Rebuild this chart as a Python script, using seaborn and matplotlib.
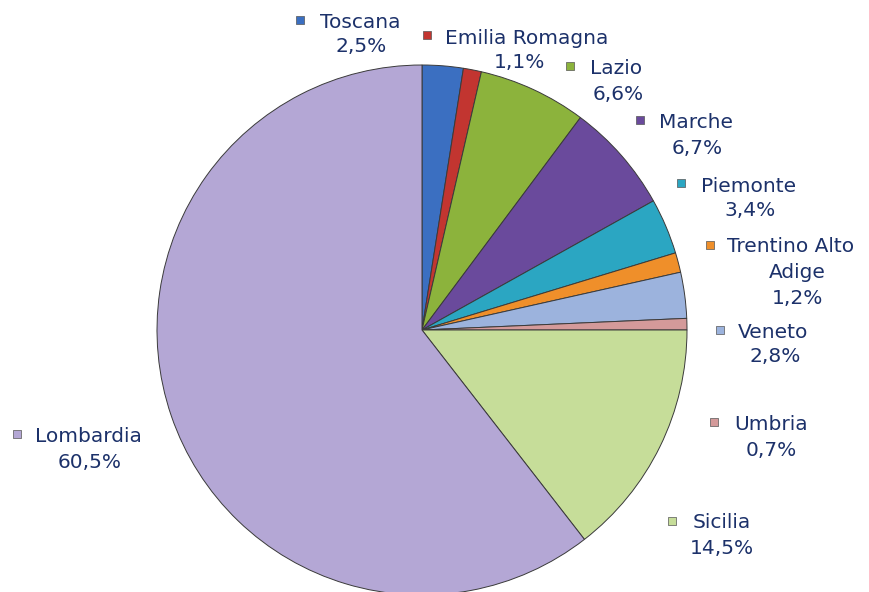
import matplotlib
matplotlib.use("Agg")
import matplotlib.pyplot as plt
import seaborn as sns

# Data (share of total, %)
regions = ["Toscana", "Emilia Romagna", "Lazio", "Marche", "Piemonte",
           "Trentino Alto\nAdige", "Veneto", "Umbria", "Sicilia", "Lombardia"]
shares = [2.5, 1.1, 6.6, 6.7, 3.4, 1.2, 2.8, 0.7, 14.5, 60.5]
pct_labels = ["2,5%", "1,1%", "6,6%", "6,7%", "3,4%", "1,2%", "2,8%", "0,7%", "14,5%", "60,5%"]

colors = ["#3b6fc1", "#c23530", "#8cb33c", "#6a4a9c", "#2ba6c2",
          "#ef8f2a", "#9cb3dd", "#d49a9a", "#c6dd99", "#b4a7d5"]

sns.set_theme(style="white")
plt.rcParams["font.family"] = ["DejaVu Sans"]

W, H = 869, 592
fig = plt.figure(figsize=(W / 100, H / 100), dpi=100)
ax = fig.add_axes([0, 0, 1, 1])

cx, cy, r = 422, H - 330, 265
ax.pie(shares, colors=colors, startangle=90, counterclock=False,
       center=(cx, cy), radius=r, frame=True,
       wedgeprops=dict(edgecolor="#3a3a3a", linewidth=0.7))
ax.set_xlim(0, W)
ax.set_ylim(0, H)
ax.set_aspect("equal")
ax.axis("off")

# label layout (pixel positions, top-left origin): square, name left x, name y, pct center x, pct y
layout = [
    (300, 20, 320, 22, 361, 47),
    (427, 35, 445, 38, 520, 63),
    (570, 66, 590, 68, 618, 94),
    (640, 120, 659, 122, 697, 148),
    (681, 183, 701, 186, 750, 211),
    (710, 245, 727, 247, 797, 298),
    (720, 330, 738, 332, 775, 357),
    (714, 422, 734, 424, 771, 450),
    (672, 521, 693, 523, 722, 548),
    (17, 434, 35, 436, 90, 463),
]
txt_color = "#1c316a"
fs = 14.5
for name, pct, col, (sx, sy, nx, ny, px, py) in zip(regions, pct_labels, colors, layout):
    ax.scatter(sx, H - sy, marker="s", s=38, color=col, edgecolor="#555555", linewidth=0.5, zorder=5)
    if "\n" in name:
        first, second = name.split("\n")
        ax.text(nx, H - ny, first, color=txt_color, fontsize=fs, ha="left", va="center")
        ax.text(px, H - (ny + py) / 2, second, color=txt_color, fontsize=fs, ha="center", va="center")
    else:
        ax.text(nx, H - ny, name, color=txt_color, fontsize=fs, ha="left", va="center")
    ax.text(px, H - py, pct, color=txt_color, fontsize=fs, ha="center", va="center")

fig.savefig("out.png", dpi=100)
